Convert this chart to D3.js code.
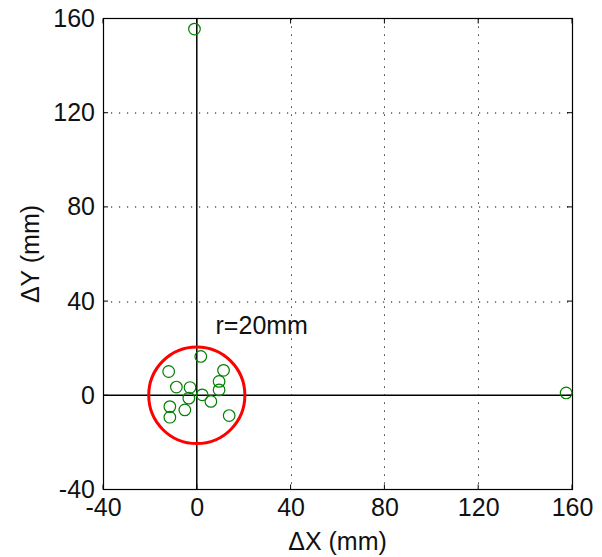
<!DOCTYPE html>
<html>
<head>
<meta charset="utf-8">
<script src="https://cdn.jsdelivr.net/npm/d3@7"></script>
<style>
  html, body { margin: 0; padding: 0; background: #fff; }
  svg { display: block; }
  text { font-family: "Liberation Sans", Arial, sans-serif; fill: #111; }
</style>
</head>
<body>
<div id="chart"></div>
<script>
// ---- data ----
const dx = [-1, 157.5, 1.7, -12, 11.4, 9.5, -8.7, -2.9, 9.5, 2.3, -3.4, 6.0, -11.5, -5.1, -11.5, 13.8];
const dy = [155.5, 1.0, 16.5, 10.1, 10.6, 5.9, 3.5, 3.3, 2.3, 0.2, -1.2, -2.6, -4.8, -6.2, -9.3, -8.6];
const xTicks = [-40, 0, 40, 80, 120, 160];
const yTicks = [-40, 0, 40, 80, 120, 160];
const xDomain = [-40, 160];
const yDomain = [-40, 160];
const circleRadius = 20.5;
const circleLabel = "r=20mm";
const labelPos = [8, 26];
const xLabel = "\u0394X (mm)";
const yLabel = "\u0394Y (mm)";

// ---- layout ----
const W = 602, H = 557;
const m = { left: 103, top: 18.5, right: 30, bottom: 67.5 };
const pw = W - m.left - m.right, ph = H - m.top - m.bottom;
const FS = "25px";

const svg = d3.select("#chart").append("svg").attr("width", W).attr("height", H);
const g = svg.append("g").attr("transform", `translate(${m.left},${m.top})`);

const x = d3.scaleLinear().domain(xDomain).range([0, pw]);
const y = d3.scaleLinear().domain(yDomain).range([ph, 0]);
const fmt = d => String(d); // plain hyphen minus, as in the reference

// grid (dotted)
const gridX = xTicks.filter(v => v !== 0 && v !== xDomain[0] && v !== xDomain[1]);
const gridY = yTicks.filter(v => v !== 0 && v !== yDomain[0] && v !== yDomain[1]);
g.selectAll(".gx").data(gridX).enter().append("line")
  .attr("x1", d => Math.round(x(d)) + 0.5).attr("x2", d => Math.round(x(d)) + 0.5)
  .attr("y1", 0).attr("y2", ph)
  .attr("stroke", "#000").attr("stroke-width", 1).attr("stroke-dasharray", "1.2,6.8");
g.selectAll(".gy").data(gridY).enter().append("line")
  .attr("y1", d => Math.round(y(d)) + 0.5).attr("y2", d => Math.round(y(d)) + 0.5)
  .attr("x1", 0).attr("x2", pw)
  .attr("stroke", "#000").attr("stroke-width", 1).attr("stroke-dasharray", "1.2,6.8");

// zero lines
g.append("line").attr("x1", x(0)).attr("x2", x(0)).attr("y1", 0).attr("y2", ph)
  .attr("stroke", "#000").attr("stroke-width", 1.5);
g.append("line").attr("x1", 0).attr("x2", pw).attr("y1", y(0)).attr("y2", y(0))
  .attr("stroke", "#000").attr("stroke-width", 1.5);

// axes (ticks inside, labels outside)
const tickLen = 5;
const xAxisB = d3.axisBottom(x).tickValues(xTicks).tickFormat(fmt).tickSize(0).tickPadding(9);
const yAxisL = d3.axisLeft(y).tickValues(yTicks).tickFormat(fmt).tickSize(0).tickPadding(8);
const gxA = g.append("g").attr("transform", `translate(0,${ph})`).call(xAxisB);
const gyA = g.append("g").call(yAxisL);
[gxA, gyA].forEach(a => {
  a.select(".domain").remove();
  a.selectAll("text").style("font-size", FS).style("font-family", "'Liberation Sans', Arial, sans-serif").attr("fill", "#111");
});
gxA.selectAll("text").attr("dy", "0.71em");

// inner tick marks on all sides
g.selectAll(".tb").data(xTicks).enter().append("line")
  .attr("x1", d => x(d)).attr("x2", d => x(d)).attr("y1", ph).attr("y2", ph - tickLen)
  .attr("stroke", "#000");
g.selectAll(".tt").data(xTicks).enter().append("line")
  .attr("x1", d => x(d)).attr("x2", d => x(d)).attr("y1", 0).attr("y2", tickLen)
  .attr("stroke", "#000");
g.selectAll(".tl").data(yTicks).enter().append("line")
  .attr("y1", d => y(d)).attr("y2", d => y(d)).attr("x1", 0).attr("x2", tickLen)
  .attr("stroke", "#000");
g.selectAll(".tr").data(yTicks).enter().append("line")
  .attr("y1", d => y(d)).attr("y2", d => y(d)).attr("x1", pw).attr("x2", pw - tickLen)
  .attr("stroke", "#000");

// box
g.append("rect").attr("x", 0.5).attr("y", 0).attr("width", pw).attr("height", ph)
  .attr("fill", "none").attr("stroke", "#000").attr("stroke-width", 1.2);

// red tolerance circle
g.append("ellipse")
  .attr("cx", x(0)).attr("cy", y(0))
  .attr("rx", x(circleRadius) - x(0)).attr("ry", y(0) - y(circleRadius))
  .attr("fill", "none").attr("stroke", "#ff0000").attr("stroke-width", 3);

// points
g.selectAll(".pt").data(dx.map((v, i) => [v, dy[i]])).enter().append("circle")
  .attr("cx", d => x(d[0])).attr("cy", d => y(d[1])).attr("r", 5.8)
  .attr("fill", "none").attr("stroke", "#008000").attr("stroke-width", 1.2);

// label
g.append("text").attr("x", x(labelPos[0])).attr("y", y(labelPos[1]))
  .style("font-size", FS).text(circleLabel);

// axis titles
svg.append("text").attr("x", m.left + pw / 2).attr("y", 550)
  .attr("text-anchor", "middle").style("font-size", FS).text(xLabel);
svg.append("text").attr("transform", `translate(39,${m.top + ph / 2}) rotate(-90)`)
  .attr("text-anchor", "middle").style("font-size", FS).text(yLabel);
</script>
</body>
</html>
